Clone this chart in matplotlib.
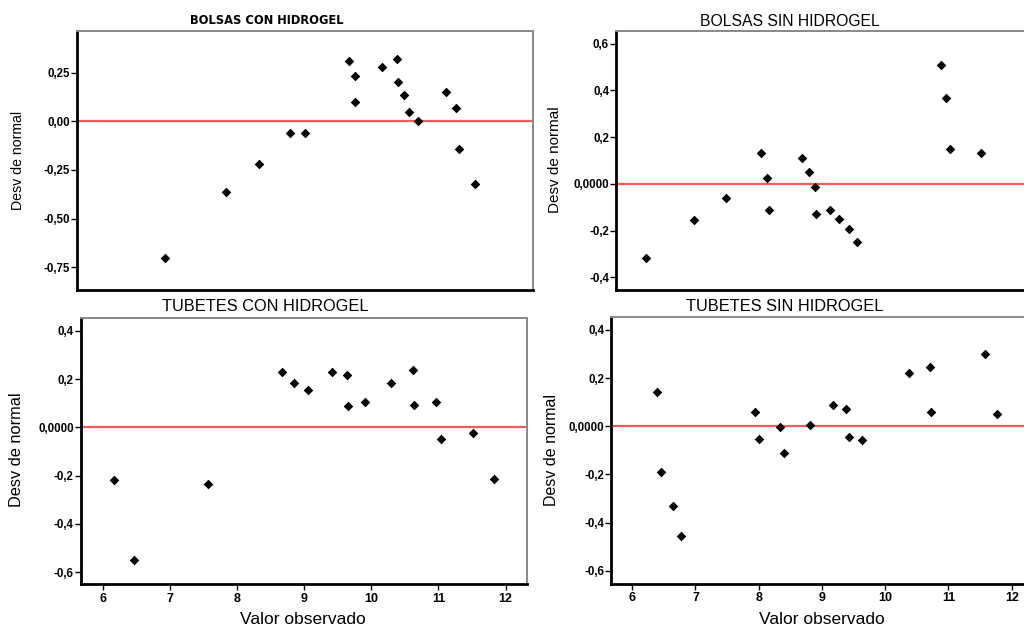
import matplotlib
matplotlib.use("Agg")
import matplotlib.pyplot as plt

plt.rcParams['font.family'] = ['Liberation Sans', 'DejaVu Sans']

# ---- data ----
titles = ["BOLSAS CON HIDROGEL", "BOLSAS SIN HIDROGEL",
          "TUBETES CON HIDROGEL", "TUBETES SIN HIDROGEL"]

bch_x = [6.95, 7.84, 8.33, 8.78, 9.00, 9.64, 9.72, 9.73, 10.12, 10.33,
         10.35, 10.44, 10.51, 10.64, 11.05, 11.19, 11.24, 11.47]
bch_y = [-0.702, -0.361, -0.221, -0.060, -0.060, 0.312, 0.231, 0.099, 0.279, 0.318,
         0.202, 0.137, 0.046, 0.000, 0.152, 0.067, -0.142, -0.322]

bsh_x = [6.14, 6.88, 7.37, 7.91, 8.01, 8.03, 8.54, 8.65, 8.75, 8.77,
         8.98, 9.12, 9.27, 9.40, 10.70, 10.78, 10.83, 11.32]
bsh_y = [-0.317, -0.155, -0.061, 0.131, 0.027, -0.110, 0.109, 0.049, -0.013, -0.127,
         -0.110, -0.150, -0.191, -0.250, 0.507, 0.368, 0.149, 0.130]

tch_x = [6.16, 6.46, 7.56, 8.67, 8.85, 9.06, 9.42, 9.64, 9.65, 9.90,
         10.29, 10.62, 10.64, 10.96, 11.04, 11.52, 11.83]
tch_y = [-0.219, -0.551, -0.235, 0.229, 0.184, 0.153, 0.229, 0.216, 0.090, 0.105,
         0.185, 0.236, 0.094, 0.105, -0.047, -0.022, -0.213]

tsh_x = [6.40, 6.46, 6.64, 6.77, 7.94, 8.01, 8.34, 8.40, 8.81, 9.18,
         9.38, 9.42, 9.64, 10.38, 10.71, 10.73, 11.57, 11.77]
tsh_y = [0.142, -0.190, -0.332, -0.454, 0.059, -0.054, -0.003, -0.111, 0.004, 0.087,
         0.071, -0.043, -0.057, 0.222, 0.245, 0.058, 0.301, 0.052]

yt_bch = [0.25, 0.0, -0.25, -0.5, -0.75]
yl_bch = ["0,25", "0,00", "-0,25", "-0,50", "-0,75"]
yt_bsh = [0.6, 0.4, 0.2, 0.0, -0.2, -0.4]
yl_bsh = ["0,6", "0,4", "0,2", "0,0000", "-0,2", "-0,4"]
yt_tub = [0.4, 0.2, 0.0, -0.2, -0.4, -0.6]
yl_tub = ["0,4", "0,2", "0,0000", "-0,2", "-0,4", "-0,6"]
xt = [6, 7, 8, 9, 10, 11, 12]
xl = ["6", "7", "8", "9", "10", "11", "12"]

ylabel = "Desv de normal"
xlabel = "Valor observado"

W, H = 1024, 629
fig = plt.figure(figsize=(W / 100, H / 100), dpi=100)


def px_axes(l, t, r, b):
    return fig.add_axes([l / W, 1 - b / H, (r - l) / W, (b - t) / H])


def style(ax, xs, ys, yt, yl, ylim, xlim, show_x):
    ax.scatter(xs, ys, marker='D', s=24, color='black', zorder=3, linewidths=0)
    ax.axhline(0, color='#f05a5a', lw=1.6, zorder=2)
    ax.set_xlim(*xlim)
    ax.set_ylim(*ylim)
    ax.set_yticks(yt)
    ax.set_yticklabels(yl, fontsize=8.3, fontweight='bold')
    if show_x:
        ax.set_xticks(xt)
        ax.set_xticklabels(xl, fontsize=9, fontweight='bold')
        ax.tick_params(axis='x', direction='out', length=4, width=1, pad=2)
    else:
        ax.set_xticks([])
    ax.tick_params(axis='y', direction='out', length=4, width=1, pad=1)
    for s in ('left', 'bottom'):
        ax.spines[s].set_linewidth(2)
        ax.spines[s].set_color('black')
    for s in ('top', 'right'):
        ax.spines[s].set_linewidth(1.4)
        ax.spines[s].set_color('#888888')


xlim = (5.67, 12.32)

ax1 = px_axes(77, 31, 533, 290)
style(ax1, bch_x, bch_y, yt_bch, yl_bch, (-0.867, 0.464), xlim, False)
ax2 = px_axes(616, 31, 1046, 290)
style(ax2, bsh_x, bsh_y, yt_bsh, yl_bsh, (-0.454, 0.654), xlim, False)
ax3 = px_axes(80.7, 317.7, 527, 584.3)
style(ax3, tch_x, tch_y, yt_tub, yl_tub, (-0.651, 0.455), xlim, True)
ax4 = px_axes(611.3, 317, 1032, 583.7)
style(ax4, tsh_x, tsh_y, yt_tub, yl_tub, (-0.654, 0.454), xlim, True)

# titles
fig.text(267 / W, 1 - 21 / H, titles[0], ha='center', va='center',
         fontsize=8.3, fontweight='bold', family='DejaVu Sans')
fig.text(790 / W, 1 - 21 / H, titles[1], ha='center', va='center', fontsize=11.3)
fig.text(265 / W, 1 - 306.5 / H, titles[2], ha='center', va='center', fontsize=11.8)
fig.text(785 / W, 1 - 306.5 / H, titles[3], ha='center', va='center', fontsize=11.8)

# y labels
for x, y, fs in [(18, 160, 10.2), (555, 160, 11), (17, 450, 11.8), (551, 450, 11.5)]:
    fig.text(x / W, 1 - y / H, ylabel, rotation=90, ha='center', va='center',
             fontsize=fs)

# x labels
for x in (303, 822):
    fig.text(x / W, 1 - 620 / H, xlabel, ha='center', va='center', fontsize=12.5)

fig.savefig("out.png", dpi=100)
